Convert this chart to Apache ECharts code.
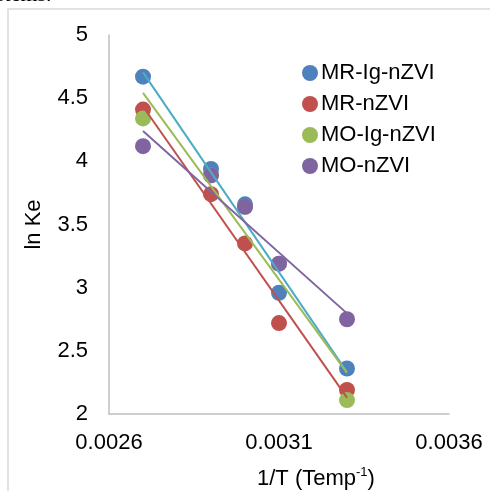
<!DOCTYPE html>
<html>
<head>
<meta charset="utf-8">
<script src="https://cdn.jsdelivr.net/npm/echarts@6/dist/echarts.min.js"></script>
<style>
  html, body { margin: 0; padding: 0; background: #fff; }
  #chart { width: 490px; height: 491px; }
</style>
</head>
<body>
<div id="chart"></div>
<script>
// 1/T values
const invT = [0.0027, 0.0029, 0.0030, 0.0031, 0.0033];
// ln Ke per material
const mrIg = [4.67, 3.94, 3.66, 2.96, 2.36];
const mrN = [4.41, 3.74, 3.35, 2.72, 2.19];
const moIg = [4.34, 3.89, 3.64, 3.19, 2.11];
const moN = [4.12, 3.89, 3.64, 3.19, 2.75];

const names = ["MR-Ig-nZVI", "MR-nZVI", "MO-Ig-nZVI", "MO-nZVI"];
const markColors = ["#4F81BD", "#C0504D", "#9BBB59", "#8064A2"];
const lineColors = ["#4BACC6", "#C0504D", "#9BBB59", "#8064A2"];
const sets = [mrIg, mrN, moIg, moN];

// linear trendline (least squares), drawn from first to last x
function trend(ys) {
  const n = invT.length;
  const mx = invT.reduce((a, b) => a + b, 0) / n;
  const my = ys.reduce((a, b) => a + b, 0) / n;
  let sxy = 0, sxx = 0;
  invT.forEach((x, i) => {
    sxy += (x - mx) * (ys[i] - my);
    sxx += (x - mx) * (x - mx);
  });
  const k = sxy / sxx;
  const x0 = invT[0], x1 = invT[n - 1];
  return [[x0, my + k * (x0 - mx)], [x1, my + k * (x1 - mx)]];
}

const series = [];
sets.forEach((ys, i) => {
  series.push({
    name: names[i],
    type: "scatter",
    symbolSize: 16,
    itemStyle: { color: markColors[i], opacity: 1 },
    z: 2,
    data: invT.map((x, j) => [x, ys[j]])
  });
});
sets.forEach((ys, i) => {
  series.push({
    name: names[i] + " trend",
    type: "line",
    showSymbol: false,
    symbol: "none",
    lineStyle: { color: lineColors[i], width: 2 },
    z: 3,
    silent: true,
    data: trend(ys)
  });
});

const chart = echarts.init(document.getElementById("chart"));
chart.setOption({
  animation: false,
  textStyle: { fontFamily: "Liberation Sans, Arial, sans-serif" },
  grid: { left: 109, right: 41, top: 35, bottom: 77 },
  legend: {
    data: names,
    orient: "vertical",
    left: 297,
    top: 57,
    icon: "circle",
    itemWidth: 16,
    itemHeight: 16,
    itemGap: 9,
    textStyle: { fontSize: 22, color: "#000", padding: [0, 0, 0, -2] }
  },
  xAxis: {
    type: "value",
    min: 0.0026,
    max: 0.0036,
    interval: 0.0005,
    splitLine: { show: false },
    axisTick: { show: false },
    axisLine: { lineStyle: { color: "#bfbfbf", width: 1.5 } },
    axisLabel: {
      fontSize: 22,
      color: "#000",
      margin: 18,
      formatter: v => v.toFixed(4)
    }
  },
  yAxis: {
    type: "value",
    min: 2,
    max: 5,
    interval: 0.5,
    name: "ln Ke",
    nameLocation: "middle",
    nameGap: 64,
    nameTextStyle: { fontSize: 22, color: "#000" },
    splitLine: { show: false },
    axisTick: { show: false },
    axisLine: { show: true, lineStyle: { color: "#bfbfbf", width: 1.5 } },
    axisLabel: { fontSize: 22, color: "#000", margin: 21 }
  },
  graphic: [
    {
      type: "rect",
      shape: { x: 8, y: 9, width: 700, height: 700 },
      style: { fill: "none", stroke: "#d9d9d9", lineWidth: 1.5 },
      silent: true
    },
    {
      type: "text",
      left: -4,
      top: -16,
      style: {
        text: "stems.",
        font: "22px 'Liberation Serif', serif",
        fill: "#000"
      }
    },
    {
      type: "text",
      left: 257,
      top: 466,
      style: {
        text: "{a|1/T (Temp}{s|-1}{a|)}",
        rich: {
          a: { fontSize: 22, fontFamily: "Liberation Sans", fill: "#000", verticalAlign: "bottom", lineHeight: 24 },
          s: { fontSize: 13, fontFamily: "Liberation Sans", fill: "#000", verticalAlign: "top", lineHeight: 24 }
        }
      }
    }
  ],
  series: series
});
</script>
</body>
</html>
